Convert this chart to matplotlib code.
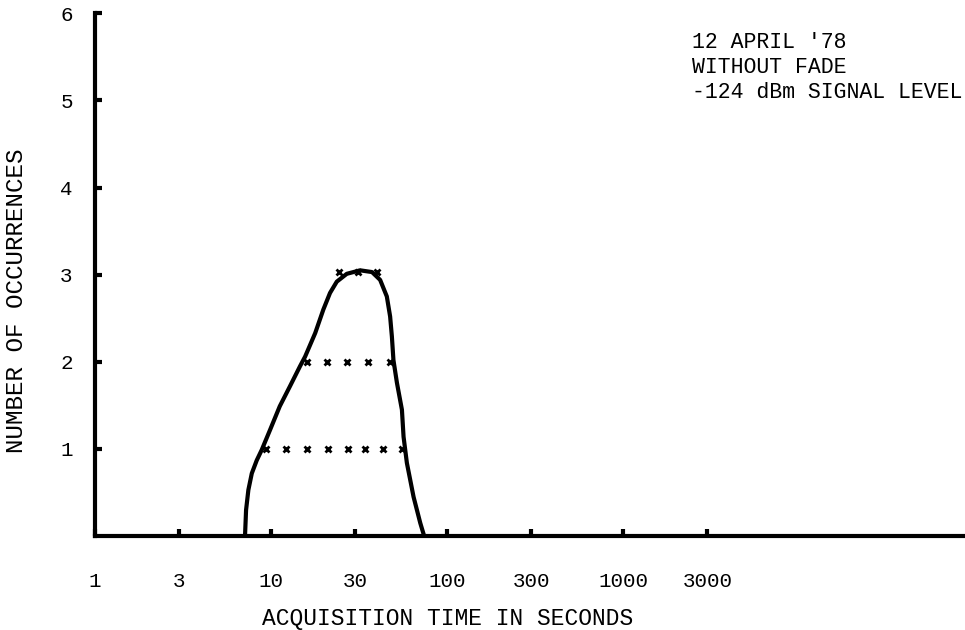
import numpy as np
import matplotlib.pyplot as plt

# outline of the occurrence envelope (acquisition time in s, count)
curve_t = [7.11, 7.21, 7.43, 7.77, 8.29, 8.85, 9.87, 11.2, 12.8, 14.6,
           15.6, 17.8, 19.8, 21.6, 23.6, 26.9, 32.0, 37.4, 41.6, 45.4,
           47.4, 48.5, 49.5, 51.8, 55.3, 56.5, 59.0, 64.4, 70.3, 74.0]
curve_n = [0.0, 0.30, 0.53, 0.72, 0.87, 0.99, 1.22, 1.49, 1.72, 1.95,
           2.06, 2.33, 2.60, 2.79, 2.92, 3.01, 3.05, 3.03, 2.94, 2.75,
           2.52, 2.29, 2.02, 1.76, 1.45, 1.14, 0.84, 0.45, 0.15, 0.0]

# individual occurrences marked with x
row1_t = [9.4, 12.2, 16.0, 21.1, 27.4, 34.2, 43.3, 55.5]
row2_t = [16.0, 20.8, 27.0, 35.5, 47.5]
row3_t = [24.3, 31.2, 40.0]

xticks = [1, 3, 10, 30, 100, 300, 1000, 3000]
xticklabels = ['1', '3', '10', '30', '100', '300', '1000', '3000']
yticks = [1, 2, 3, 4, 5, 6]

note = "12 APRIL '78\nWITHOUT FADE\n-124 dBm SIGNAL LEVEL"

plt.rcParams['font.family'] = ['Liberation Mono', 'DejaVu Sans Mono']

fig = plt.figure(figsize=(9.65, 6.3), dpi=100)
ax = fig.add_axes([0.0984, 0.149, 0.9016, 0.830])

ax.plot(curve_t, curve_n, 'k-', linewidth=3, solid_capstyle='round',
        solid_joinstyle='round')
for n, row in zip([1, 2, 3.03], [row1_t, row2_t, row3_t]):
    ax.plot(row, [n] * len(row), 'kx', markersize=5, markeredgewidth=2)

ax.set_xscale('log')
ax.set_xlim(1, 87000)
ax.set_ylim(0, 6)
ax.set_xticks(xticks)
ax.set_xticklabels(xticklabels)
ax.minorticks_off()
ax.set_yticks(yticks)

for s in ['top', 'right']:
    ax.spines[s].set_visible(False)
for s in ['left', 'bottom']:
    ax.spines[s].set_linewidth(3)

ax.tick_params(axis='x', direction='in', length=5, width=3, pad=26, labelsize=15)
ax.tick_params(axis='y', direction='in', length=5, width=3, pad=16, labelsize=15)

fig.text(448 / 965, 1 - 619 / 630, 'ACQUISITION TIME IN SECONDS',
         fontsize=16.5, ha='center', va='center')
fig.text(17 / 965, 1 - 301 / 630, 'NUMBER OF OCCURRENCES',
         fontsize=17.5, ha='center', va='center', rotation=90)

fig.text(0.717, 0.95, note, fontsize=15.5, va='top', ha='left', linespacing=1.27)

plt.savefig('out.png')
